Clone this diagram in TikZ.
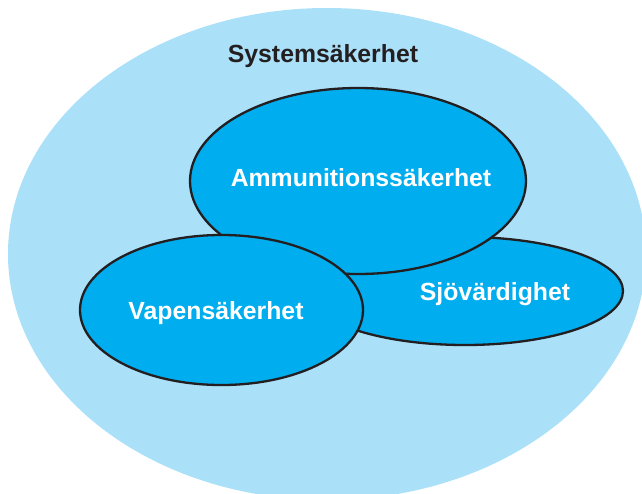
\documentclass[tikz,border=0pt]{standalone}
\usepackage{fontspec}
\setmainfont{Liberation Sans}
\usetikzlibrary{shapes.geometric}
\definecolor{outerblue}{RGB}{171,224,249}
\definecolor{innerblue}{RGB}{0,173,238}
\definecolor{inkline}{RGB}{35,31,32}
\tikzset{
  field/.style={ellipse, inner sep=0pt, fill=innerblue, draw=inkline, line width=2.3pt},
  whitelabel/.style={anchor=base, text=white, inner sep=0pt, font=\bfseries\fontsize{24.8}{30}\selectfont},
  darklabel/.style={anchor=base, text=inkline, inner sep=0pt, font=\bfseries\fontsize{24.8}{30}\selectfont}
}
\begin{document}
\begin{tikzpicture}[x=1pt, y=-1pt]
  \useasboundingbox (0,0) rectangle (642,493);
  \clip (0,0) rectangle (642,493);
  % overall system safety area
  \node[ellipse, inner sep=0pt, fill=outerblue, minimum width=638pt, minimum height=492pt] (system) at (327,254) {};
  % the three overlapping areas, back to front
  \node[field, minimum width=316pt, minimum height=108pt] (sjo) at (465,291) {};
  \node[field, minimum width=336pt, minimum height=186pt] (ammo) at (358,181) {};
  \node[field, minimum width=283pt, minimum height=150pt] (weapon) at (221.5,310) {};
  % labels
  \node[darklabel] (tsystem) at (323,62) {Systemsäkerhet};
  \node[whitelabel] (tammo) at (361,186) {Ammunitionssäkerhet};
  \node[whitelabel] (tweapon) at (216,319) {Vapensäkerhet};
  \node[whitelabel] (tsjo) at (495,300) {Sjövärdighet};
\end{tikzpicture}
\end{document}
